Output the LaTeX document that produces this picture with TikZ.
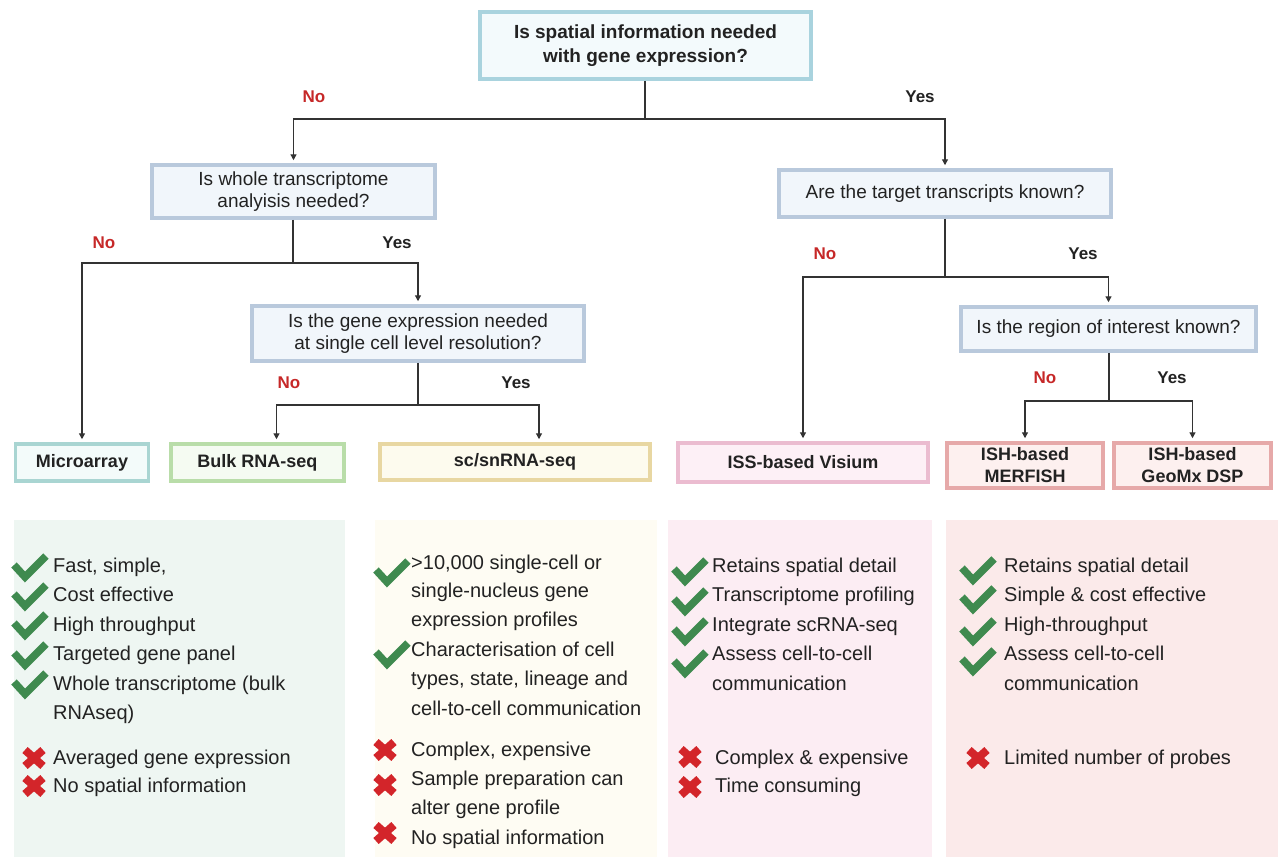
\documentclass[tikz,border=0pt]{standalone}
\usepackage{fontspec}
\setmainfont{Liberation Sans}
\usetikzlibrary{arrows.meta}

\definecolor{inkgray}{HTML}{222222}
\definecolor{wiregray}{HTML}{333333}
\definecolor{topline}{HTML}{A9D3DE}
\definecolor{topfill}{HTML}{F3FAFC}
\definecolor{qline}{HTML}{B9C9DC}
\definecolor{qfill}{HTML}{F1F6FB}
\definecolor{microline}{HTML}{A9D5D2}
\definecolor{microfill}{HTML}{F3FBFA}
\definecolor{bulkline}{HTML}{B9DDA9}
\definecolor{bulkfill}{HTML}{F5FBF2}
\definecolor{scline}{HTML}{E8D7A2}
\definecolor{scfill}{HTML}{FDFBEE}
\definecolor{visline}{HTML}{EBBCD0}
\definecolor{visfill}{HTML}{FDF0F6}
\definecolor{ishline}{HTML}{E6A9A9}
\definecolor{ishfill}{HTML}{FDF0EF}
\definecolor{panelA}{HTML}{EEF6F2}
\definecolor{panelB}{HTML}{FEFCF3}
\definecolor{panelC}{HTML}{FCEDF3}
\definecolor{panelD}{HTML}{FBEAEA}
\definecolor{okgreen}{HTML}{3F8A4F}
\definecolor{badred}{HTML}{D3252A}
\definecolor{nored}{HTML}{C62828}

\begin{document}
\begin{tikzpicture}
	[x=1pt, y=-1pt,
		containsText/.style  ={text=inkgray
									},
		topquestion/.style	={rectangle
									, containsText
									, draw=topline
									, fill=topfill
									, line width=3.5pt
									, font=\bfseries\fontsize{19}{24}\selectfont
									, align=center
									, inner sep=0pt
									, minimum width=331pt
									, minimum height=67pt
									},
		question/.style		={rectangle
									, containsText
									, draw=qline
									, fill=qfill
									, line width=3.5pt
									, font=\fontsize{19}{21.5}\selectfont
									, align=center
									, inner sep=0pt
									},
		result/.style		={rectangle
									, containsText
									, line width=3.5pt
									, font=\bfseries\fontsize{18}{22}\selectfont
									, align=center
									, inner sep=0pt
									},
		line/.style		 	={draw=wiregray
									, line width=1.3pt
									, -{Triangle[length=6pt,width=6pt]}
									, shorten >=3pt
									},
		wire/.style		 	={draw=wiregray
									, line width=1.3pt
									},
		yeslabel/.style		={containsText
									, font=\bfseries\fontsize{17}{20}\selectfont
									},
		nolabel/.style		={yeslabel
									, text=nored
									},
		item/.style			={containsText
									, anchor=base west
									, inner sep=0pt
									, font=\fontsize{20}{24}\selectfont
									},
		okmark/.pic			={\draw[okgreen, line width=7.5pt] (-16,-1) -- (-5,11) -- (16,-10);},
		nomark/.pic			={\draw[badred, line width=8pt] (-9,-8) -- (9,8) (-9,8) -- (9,-8);}
	]
\useasboundingbox (0,0) rectangle (1278,857);

% questions
\node [topquestion] (spatial)		at (645.5,45.5)	{Is spatial information needed\\with gene expression?};
\node [question, minimum width=283pt, minimum height=53pt] (whole) at (293.5,191.5) {Is whole transcriptome\\analyisis needed?};
\node [question, minimum width=332pt, minimum height=55pt] (single) at (418,333.5) {Is the gene expression needed\\at single cell level resolution?};
\node [question, minimum width=332pt, minimum height=47pt] (target) at (945,193.5) {Are the target transcripts known?};
\node [question, minimum width=295pt, minimum height=44pt] (region) at (1108.5,329) {Is the region of interest known?};

% results
\node [result, draw=microline, fill=microfill, minimum width=133pt, minimum height=37pt] (microarray) at (82,462.5) {Microarray};
\node [result, draw=bulkline, fill=bulkfill, minimum width=173pt, minimum height=37pt] (bulk) at (257.5,462.5) {Bulk RNA-seq};
\node [result, draw=scline, fill=scfill, minimum width=270pt, minimum height=36pt] (scsn) at (515,462) {sc/snRNA-seq};
\node [result, draw=visline, fill=visfill, minimum width=250pt, minimum height=39pt] (visium) at (803,462.5) {ISS-based Visium};
\node [result, draw=ishline, fill=ishfill, minimum width=156pt, minimum height=45pt] (merfish) at (1025,465.5) {ISH-based\\MERFISH};
\node [result, draw=ishline, fill=ishfill, minimum width=157pt, minimum height=45pt] (geomx) at (1192.5,465.5) {ISH-based\\GeoMx DSP};

% branches
\coordinate (split spatial)	at (645,119);
\coordinate (split whole)	at (293,263);
\coordinate (split single)	at (418,405);
\coordinate (split target)	at (945,277);
\coordinate (split region)	at (1109,401);

\path [wire]	(spatial.south -| split spatial) -- (split spatial);
\path [line]	(split spatial) -| (whole.north);
\path [line]	(split spatial) -| (target.north);
\path [wire]	(whole.south -| split whole) -- (split whole);
\path [line]	(split whole) -| (microarray.north);
\path [line]	(split whole) -| (single.north);
\path [wire]	(single.south -| split single) -- (split single);
\path [line]	(split single) -| ([xshift=19pt]bulk.north);
\path [line]	(split single) -| ([xshift=24pt]scsn.north);
\path [wire]	(target.south -| split target) -- (split target);
\path [line]	(split target) -| (visium.north);
\path [line]	(split target) -| (region.north);
\path [wire]	(region.south -| split region) -- (split region);
\path [line]	(split region) -| (merfish.north);
\path [line]	(split region) -| (geomx.north);

\node [nolabel] (no spatial)	at (314,97)		{No};
\node [yeslabel] (yes spatial)	at (920,97)		{Yes};
\node [nolabel] (no whole)		at (104,243)	{No};
\node [yeslabel] (yes whole)	at (397,243)	{Yes};
\node [nolabel] (no single)		at (289,383)	{No};
\node [yeslabel] (yes single)	at (516,383)	{Yes};
\node [nolabel] (no target)		at (825,254)	{No};
\node [yeslabel] (yes target)	at (1083,254)	{Yes};
\node [nolabel] (no region)		at (1045,378)	{No};
\node [yeslabel] (yes region)	at (1172,378)	{Yes};

% panels
\fill [panelA] (14,520) rectangle (345,857);
\fill [panelB] (375,520) rectangle (657,857);
\fill [panelC] (668,520) rectangle (932,857);
\fill [panelD] (946,520) rectangle (1278,857);

% microarray / bulk
\pic at (30,566) {okmark};
\pic at (30,595) {okmark};
\pic at (30,624) {okmark};
\pic at (30,654) {okmark};
\pic at (30,683) {okmark};
\pic at (34,758) {nomark};
\pic at (34,786) {nomark};
\node [item] (fast)			at (53,572)	{Fast, simple,};
\node [item] (cost)			at (53,601)	{Cost effective};
\node [item] (throughput)	at (53,631)	{High throughput};
\node [item] (panel)		at (53,660)	{Targeted gene panel};
\node [item] (whole tr)		at (53,690)	{Whole transcriptome (bulk};
\node [item] (rnaseq)		at (53,719)	{RNAseq)};
\node [item] (averaged)		at (53,764)	{Averaged gene expression};
\node [item] (no spatial a)	at (53,792)	{No spatial information};

% sc/snRNA-seq
\pic at (392,571) {okmark};
\pic at (392,653) {okmark};
\pic at (385,750) {nomark};
\pic at (385,785) {nomark};
\pic at (385,833) {nomark};
\node [item] (profiles a)	at (411,569)	{>10,000 single-cell or};
\node [item] (profiles b)	at (411,597)	{single-nucleus gene};
\node [item] (profiles c)	at (411,626)	{expression profiles};
\node [item] (charact a)	at (411,656)	{Characterisation of cell};
\node [item] (charact b)	at (411,685)	{types, state, lineage and};
\node [item] (charact c)	at (411,715)	{cell-to-cell communication};
\node [item] (complex)		at (411,756)	{Complex, expensive};
\node [item] (sample a)		at (411,785)	{Sample preparation can};
\node [item] (sample b)		at (411,814)	{alter gene profile};
\node [item] (no spatial b)	at (411,844)	{No spatial information};

% visium
\pic at (690,570) {okmark};
\pic at (690,600) {okmark};
\pic at (690,630) {okmark};
\pic at (690,662) {okmark};
\pic at (690,757) {nomark};
\pic at (690,787) {nomark};
\node [item] (retains a)	at (712,572)	{Retains spatial detail};
\node [item] (profiling)	at (712,601)	{Transcriptome profiling};
\node [item] (integrate)	at (712,631)	{Integrate scRNA-seq};
\node [item] (assess a)		at (712,660)	{Assess cell-to-cell};
\node [item] (comm a)		at (712,690)	{communication};
\node [item] (expensive)	at (715,764)	{Complex \& expensive};
\node [item] (time)			at (715,792)	{Time consuming};

% merfish / geomx
\pic at (978,569) {okmark};
\pic at (978,598) {okmark};
\pic at (978,630) {okmark};
\pic at (978,660) {okmark};
\pic at (978,758) {nomark};
\node [item] (retains b)	at (1004,572)	{Retains spatial detail};
\node [item] (simple)		at (1004,601)	{Simple \& cost effective};
\node [item] (high)			at (1004,631)	{High-throughput};
\node [item] (assess b)		at (1004,660)	{Assess cell-to-cell};
\node [item] (comm b)		at (1004,690)	{communication};
\node [item] (probes)		at (1004,764)	{Limited number of probes};
\end{tikzpicture}
\end{document}
